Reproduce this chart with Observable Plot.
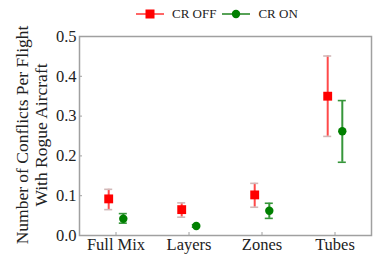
<!DOCTYPE html>
<html>
<head>
<meta charset="utf-8">
<script src="https://cdn.jsdelivr.net/npm/d3@7"></script>
<script src="https://cdn.jsdelivr.net/npm/@observablehq/plot@0.6"></script>
<style>
  html, body { margin: 0; padding: 0; background: #fff; }
  #wrap { position: relative; width: 383px; height: 257px; font-family: "Liberation Serif", "Times New Roman", Times, serif; }
  #legend { position: absolute; top: 6px; left: 136px; display: flex; align-items: center; font-size: 13px; color: #222; }
  #legend span { margin: 0 6px 0 8px; }
  #chart svg { overflow: visible; }
</style>
</head>
<body>
<div id="wrap">
  <div id="chart"></div>
  <div id="legend">
    <svg width="28" height="16"><line x1="0" x2="28" y1="8" y2="8" stroke="#ff4040" stroke-width="1.6"/><rect x="9.5" y="3.5" width="9" height="9" fill="red"/></svg>
    <span>CR OFF</span>
    <svg width="28" height="16"><line x1="0" x2="28" y1="8" y2="8" stroke="#2e8b2e" stroke-width="1.6"/><circle cx="14" cy="8" r="4.2" fill="green"/></svg>
    <span>CR ON</span>
  </div>
</div>
<script>
const categories = ["Full Mix", "Layers", "Zones", "Tubes"];
const offMean = [0.092, 0.065, 0.102, 0.350];
const offLow  = [0.065, 0.046, 0.071, 0.249];
const offHigh = [0.116, 0.082, 0.131, 0.451];
const onMean  = [0.042, 0.024, 0.062, 0.262];
const onLow   = [0.031, 0.021, 0.043, 0.184];
const onHigh  = [0.055, 0.027, 0.081, 0.339];
const yTicks = [0.0, 0.1, 0.2, 0.3, 0.4, 0.5];

const W = 383, H = 257;
const mL = 79, mR = 12, mT = 36, mB = 22;
const plotW = W - mL - mR, plotH = H - mT - mB;
const off = 0.1, cap = 0.055;
const FONT = "'Liberation Serif', 'Times New Roman', Times, serif";

const off_ = categories.map((c, i) => ({x: i + 1 - off, m: offMean[i], lo: offLow[i], hi: offHigh[i]}));
const on_  = categories.map((c, i) => ({x: i + 1 + off, m: onMean[i], lo: onLow[i], hi: onHigh[i]}));
const xTicks = categories.map((c, i) => i + 1);

const errMarks = (data, lineColor, capColor) => [
  Plot.ruleX(data, {x: "x", y1: "lo", y2: "hi", stroke: lineColor, strokeWidth: 2}),
  Plot.ruleY(data, {y: "hi", x1: d => d.x - cap, x2: d => d.x + cap, stroke: capColor, strokeWidth: 1.6}),
  Plot.ruleY(data, {y: "lo", x1: d => d.x - cap, x2: d => d.x + cap, stroke: capColor, strokeWidth: 1.6})
];

const chart = Plot.plot({
  width: W, height: H,
  marginLeft: mL, marginRight: mR, marginTop: mT, marginBottom: mB,
  style: {fontFamily: FONT, fontSize: "16.5px", color: "#222", background: "white", overflow: "visible"},
  x: {type: "linear", domain: [0.5, 4.5], axis: null},
  y: {domain: [0, 0.5], axis: null},
  marks: [
    Plot.frame({stroke: "#a0a0a0", strokeWidth: 1.5}),
    Plot.tickX(xTicks, {x: d => d, stroke: "#a0a0a0", insetTop: plotH - 3}),
    Plot.tickY(yTicks, {y: d => d, stroke: "#a0a0a0", insetRight: plotW - 3}),
    Plot.axisX(xTicks, {tickSize: 0, tickPadding: 3, tickFormat: d => categories[d - 1], fontSize: 16.5, label: null}),
    Plot.axisY(yTicks, {tickSize: 0, tickPadding: 3, tickFormat: d3.format(".1f"), fontSize: 16.5, label: null}),
    Plot.text(["Number of Conflicts Per Flight\nWith Rogue Aircraft"], {frameAnchor: "left", textAnchor: "middle", lineAnchor: "middle", rotate: -90, dx: -48.5, dy: -1, fontSize: 17.5, lineHeight: 1.1, fill: "#222"}),
    ...errMarks(off_, "#ff4a4a", "#d2b8b8"),
    ...errMarks(on_, "#36963a", "#36963a"),
    Plot.dot(off_, {x: "x", y: "m", symbol: "square", r: 5, fill: "red"}),
    Plot.dot(on_, {x: "x", y: "m", symbol: "circle", r: 4.2, fill: "green"})
  ]
});
document.getElementById("chart").appendChild(chart);
</script>
</body>
</html>
